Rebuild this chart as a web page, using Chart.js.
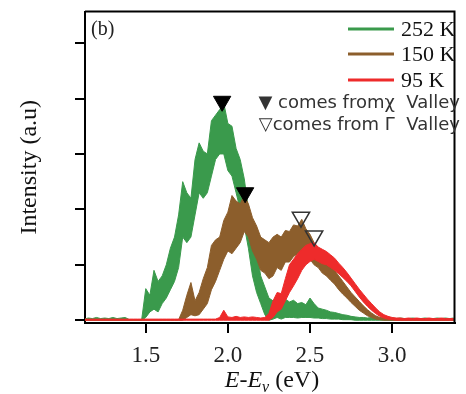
<!DOCTYPE html>
<html>
<head>
<meta charset="utf-8">
<script src="https://cdn.jsdelivr.net/npm/chart.js@4"></script>
<style>
  body { margin: 0; background: #fff; }
  #wrap { width: 466px; height: 394px; }
</style>
</head>
<body>
<div id="wrap"><canvas id="chart" width="466" height="394"></canvas></div>
<script>
"use strict";

// energy grid, 1.125 .. 3.375 eV in 0.025 steps
const energies = [];
for (let i = 0; i <= 90; i++) {
  energies.push(+(1.125 + 0.025 * i).toFixed(3));
}

const xTicks = [1.5, 2.0, 2.5, 3.0];
const yTicks = [0, 1, 2, 3, 4, 5];

const seriesLabels = ["252 K", "150 K", "95 K"];

// 252 K (noise band: upper / lower edge)
const upper252 = [0.02, 0.04, 0.03, 0.05, 0.03, 0.04, 0.03, 0.05, 0.03, 0.04,
  0.05, 0.01, 0.01, 0.01, 0.01, 0.57, 0.45, 0.9, 0.7, 0.8,
  1.0, 1.3, 1.5, 1.9, 2.5, 2.3, 2.2, 2.9, 3.2, 3.05,
  3.0, 3.6, 3.7, 3.8, 3.92, 3.55, 3.5, 3.1, 2.9, 2.55,
  2.0, 1.4, 1.25, 0.8, 0.6, 0.4, 0.35, 0.4, 0.3, 0.38,
  0.33, 0.36, 0.3, 0.32, 0.28, 0.4, 0.3, 0.22, 0.2, 0.18,
  0.15, 0.14, 0.12, 0.1, 0.09, 0.07, 0.06, 0.05, 0.05, 0.04,
  0.05, 0.03, 0.04, 0.04, 0.03, 0.04, 0.03, 0.04, 0.03, 0.03,
  0.04, 0.03, 0.03, 0.04, 0.03, 0.03, 0.04, 0.03, 0.04, 0.03, 0.04];
const lower252 = [0, 0, 0, 0, 0, 0, 0, 0, 0, 0,
  0, 0, 0, 0, 0, 0.05, 0.15, 0.2, 0.15, 0.3,
  0.4, 0.55, 0.7, 0.95, 1.5, 1.4, 1.5, 1.9, 2.3, 2.2,
  2.3, 2.6, 2.9, 3.0, 3.0, 2.7, 2.6, 2.3, 2.0, 1.7,
  1.3, 0.8, 0.5, 0.3, 0.1, 0.0, 0.02, 0.05, 0.02, 0.05,
  0.05, 0.05, 0.04, 0.05, 0.05, 0.05, 0.04, 0.04, 0.03, 0.03,
  0.02, 0.02, 0.02, 0.01, 0.01, 0.01, 0, 0, 0, 0,
  0, 0, 0, 0, 0, 0, 0, 0, 0, 0,
  0, 0, 0, 0, 0, 0, 0, 0, 0, 0, 0];

// 150 K
const upper150 = [0.01, 0.01, 0.01, 0.01, 0.01, 0.01, 0.01, 0.01, 0.01, 0.01,
  0.01, 0.01, 0.01, 0.01, 0.01, 0.01, 0.01, 0.01, 0.01, 0.01,
  0.01, 0.01, 0.01, 0.01, 0.18, 0.45, 0.68, 0.35, 0.5, 0.75,
  0.95, 1.35, 1.45, 1.5, 1.8, 1.95, 2.25, 2.15, 2.1, 2.25,
  2.1, 1.85, 1.7, 1.5, 1.45, 1.4, 1.5, 1.55, 1.5, 1.62,
  1.6, 1.72, 1.7, 1.82, 1.65, 1.55, 1.4, 1.3, 1.2, 1.1,
  1.0, 0.9, 0.8, 0.7, 0.6, 0.5, 0.42, 0.34, 0.26, 0.19,
  0.13, 0.08, 0.05, 0.04, 0.03, 0.03, 0.02, 0.03, 0.02, 0.03,
  0.02, 0.03, 0.02, 0.02, 0.03, 0.02, 0.02, 0.03, 0.02, 0.02, 0.02];
const lower150 = [0, 0, 0, 0, 0, 0, 0, 0, 0, 0,
  0, 0, 0, 0, 0, 0, 0, 0, 0, 0,
  0, 0, 0, 0, 0, 0.05, 0.1, 0.08, 0.1, 0.2,
  0.3, 0.55, 0.7, 0.9, 1.1, 1.25, 1.2, 1.3, 1.4, 1.6,
  1.5, 1.25, 1.1, 0.9, 0.85, 0.75, 0.8, 0.95, 0.9, 1.05,
  1.05, 1.15, 1.2, 1.25, 1.2, 1.1, 1.0, 0.95, 0.85, 0.8,
  0.72, 0.65, 0.55, 0.47, 0.4, 0.32, 0.25, 0.18, 0.13, 0.08,
  0.05, 0.02, 0.01, 0, 0, 0, 0, 0, 0, 0,
  0, 0, 0, 0, 0, 0, 0, 0, 0, 0, 0];

// 95 K
const upper95 = [0.02, 0.02, 0.02, 0.02, 0.02, 0.02, 0.02, 0.02, 0.02, 0.02,
  0.02, 0.02, 0.02, 0.02, 0.02, 0.02, 0.02, 0.02, 0.02, 0.02,
  0.02, 0.02, 0.02, 0.02, 0.02, 0.02, 0.02, 0.02, 0.02, 0.02,
  0.02, 0.02, 0.02, 0.05, 0.18, 0.06, 0.05, 0.07, 0.05, 0.06,
  0.05, 0.06, 0.05, 0.04, 0.05, 0.12, 0.35, 0.5, 0.48, 0.75,
  1.0, 1.1, 1.2, 1.28, 1.35, 1.38, 1.4, 1.32, 1.28, 1.24,
  1.18, 1.12, 1.03, 0.95, 0.86, 0.76, 0.66, 0.56, 0.47, 0.38,
  0.3, 0.22, 0.15, 0.1, 0.07, 0.05, 0.04, 0.04, 0.03, 0.04,
  0.03, 0.04, 0.03, 0.03, 0.04, 0.03, 0.03, 0.04, 0.03, 0.03, 0.03];
const lower95 = [0, 0, 0, 0, 0, 0, 0, 0, 0, 0,
  0, 0, 0, 0, 0, 0, 0, 0, 0, 0,
  0, 0, 0, 0, 0, 0, 0, 0, 0, 0,
  0, 0, 0, 0, 0, 0, 0, 0, 0, 0,
  0, 0, 0, 0, 0, 0, 0.05, 0.15, 0.2, 0.35,
  0.5, 0.62, 0.75, 0.9, 1.0, 1.06, 1.1, 1.06, 1.02, 1.0,
  0.95, 0.9, 0.84, 0.77, 0.7, 0.62, 0.52, 0.42, 0.33, 0.25,
  0.18, 0.12, 0.07, 0.04, 0.02, 0.01, 0, 0, 0, 0,
  0, 0, 0, 0, 0, 0, 0, 0, 0, 0, 0];

// peak markers
const chiValleyE = [1.965, 2.105];
const chiValleyI = [3.95, 2.3];
const gammaValleyE = [2.445, 2.525];
const gammaValleyI = [1.86, 1.52];

const colors = ["#3a9a4c", "#8c5e2c", "#ee2b2b"];
const serif = "'Liberation Serif', 'Times New Roman', serif";

function toPoints(xs, ys) {
  let pts = [];
  for (let i = 0; i < ys.length; i++) {
    pts.push({ x: xs[i], y: ys[i] });
  }
  return pts;
}

function bandSets(upper, lower, color, order) {
  return [
    {
      data: toPoints(energies, upper),
      borderColor: color,
      borderWidth: 1,
      pointRadius: 0,
      fill: false,
      order: order,
    },
    {
      data: toPoints(energies, lower),
      borderColor: color,
      borderWidth: 1,
      backgroundColor: color,
      pointRadius: 0,
      fill: "-1",
      order: order,
    },
  ];
}

const datasets = [
  ...bandSets(upper252, lower252, colors[0], 3),
  ...bandSets(upper150, lower150, colors[1], 2),
  ...bandSets(upper95, lower95, colors[2], 1),
  {
    data: toPoints(chiValleyE, chiValleyI),
    showLine: false,
    pointStyle: "triangle",
    rotation: 180,
    pointRadius: 10,
    pointBackgroundColor: "#000",
    pointBorderColor: "#000",
    order: 0,
  },
  {
    data: toPoints(gammaValleyE, gammaValleyI),
    showLine: false,
    pointStyle: "triangle",
    rotation: 180,
    pointRadius: 10,
    pointBorderWidth: 1.5,
    pointBackgroundColor: "rgba(255,255,255,0)",
    pointBorderColor: "#333",
    order: 0,
  },
];

// frame, legend, notes, axis titles
const extras = {
  id: "extras",
  beforeDraw(chart) {
    const ctx = chart.ctx;
    ctx.save();
    ctx.fillStyle = "#fff";
    ctx.fillRect(0, 0, chart.width, chart.height);
    ctx.restore();
  },
  afterDraw(chart) {
    const ctx = chart.ctx;
    const a = chart.chartArea;
    ctx.save();

    ctx.strokeStyle = "#000";
    ctx.lineWidth = 2;
    ctx.beginPath();
    ctx.moveTo(a.left, a.top);
    ctx.lineTo(a.right, a.top);
    ctx.lineTo(a.right, a.bottom);
    ctx.stroke();

    // legend
    const legY = [29, 54, 80];
    for (let i = 0; i < seriesLabels.length; i++) {
      ctx.strokeStyle = colors[i];
      ctx.lineWidth = 3;
      ctx.beginPath();
      ctx.moveTo(348, legY[i]);
      ctx.lineTo(394, legY[i]);
      ctx.stroke();
      ctx.fillStyle = "#111";
      ctx.font = "22px " + serif;
      ctx.textBaseline = "middle";
      ctx.textAlign = "left";
      ctx.fillText(seriesLabels[i], 401, legY[i] + 1);
    }

    // notes
    ctx.fillStyle = "#333";
    ctx.font = "18px 'DejaVu Sans', sans-serif";
    ctx.textAlign = "right";
    ctx.textBaseline = "middle";
    ctx.fillText("\u25BC comes from\u03C7  Valley", 460, 103);
    ctx.fillText("\u25BDcomes from \u0393  Valley", 460, 125);

    // panel label
    ctx.fillStyle = "#222";
    ctx.font = "20px " + serif;
    ctx.textAlign = "left";
    ctx.fillText("(b)", 91, 30);

    // y title
    ctx.save();
    ctx.translate(30, (a.top + a.bottom) / 2);
    ctx.rotate(-Math.PI / 2);
    ctx.font = "24px " + serif;
    ctx.textAlign = "center";
    ctx.textBaseline = "middle";
    ctx.fillStyle = "#111";
    ctx.fillText("Intensity (a.u)", 0, 0);
    ctx.restore();

    // x title: E-E_v (eV)
    ctx.fillStyle = "#111";
    ctx.textBaseline = "alphabetic";
    ctx.textAlign = "left";
    const it = "italic 24px " + serif;
    const rm = "24px " + serif;
    const sub = "italic 16px " + serif;
    ctx.font = it;
    const w1 = ctx.measureText("E-E").width;
    ctx.font = sub;
    const w2 = ctx.measureText("v").width;
    ctx.font = rm;
    const w3 = ctx.measureText(" (eV)").width;
    let x = 272 - (w1 + w2 + w3) / 2;
    const base = 387;
    ctx.font = it;
    ctx.fillText("E-E", x, base);
    x += w1;
    ctx.font = sub;
    ctx.fillText("v", x, base + 5);
    x += w2;
    ctx.font = rm;
    ctx.fillText(" (eV)", x, base);

    ctx.restore();
  },
};

const config = {
  type: "line",
  data: { datasets: datasets },
  options: {
    responsive: false,
    animation: false,
    layout: { padding: { top: 9, right: 3, left: 0, bottom: 0 } },
    plugins: {
      legend: { display: false },
      tooltip: { enabled: false },
    },
    scales: {
      x: {
        type: "linear",
        min: 1.13,
        max: 3.38,
        afterBuildTicks: (axis) => {
          axis.ticks = xTicks.map((v) => ({ value: v }));
        },
        afterFit: (scale) => {
          scale.height = 71;
        },
        ticks: {
          color: "#222",
          font: { family: serif, size: 23 },
          padding: 9,
          maxRotation: 0,
          callback: (v) => v.toFixed(1),
        },
        grid: {
          drawOnChartArea: false,
          drawTicks: true,
          tickLength: 10,
          color: "#000",
          lineWidth: 2,
        },
        border: { color: "#000", width: 2 },
      },
      y: {
        type: "linear",
        min: -0.05,
        max: 5.57,
        afterBuildTicks: (axis) => {
          axis.ticks = yTicks.map((v) => ({ value: v }));
        },
        afterFit: (scale) => {
          scale.width = 85;
        },
        ticks: { callback: () => "" },
        grid: {
          drawOnChartArea: false,
          drawTicks: true,
          tickLength: 10,
          color: "#000",
          lineWidth: 2,
        },
        border: { color: "#000", width: 2 },
      },
    },
  },
  plugins: [extras],
};

new Chart(document.getElementById("chart"), config);
</script>
</body>
</html>
